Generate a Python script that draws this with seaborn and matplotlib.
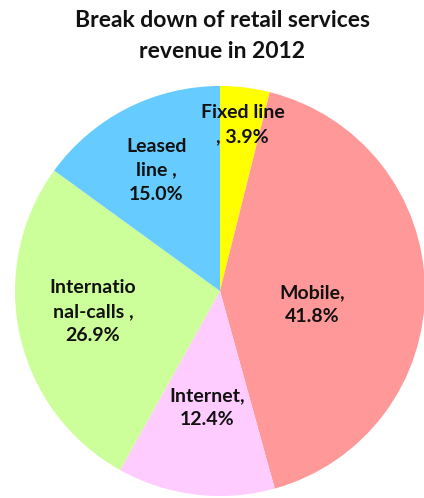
import matplotlib
matplotlib.use("Agg")
import matplotlib.pyplot as plt
import seaborn as sns
import numpy as np

categories = ["Fixed line", "Mobile", "Internet", "Internatio\nnal-calls", "Leased\nline"]
label_texts = ["Fixed line\n, 3.9%", "Mobile,\n41.8%", "Internet,\n12.4%", "Internatio\nnal-calls ,\n26.9%", "Leased\nline ,\n15.0%"]
values = [3.9, 41.8, 12.4, 26.9, 15.0]
colors = ["#FFFF00", "#FF9999", "#FFCCFF", "#CCFF99", "#66CCFF"]
# label positions relative to the pie centre, in pie-radius units
label_x = [0.11, 0.45, -0.063, -0.62, -0.31]
label_y = [0.81, -0.065, -0.57, -0.10, 0.59]

sns.set_theme(style="white")
plt.rcParams['font.family'] = ['Lato', 'DejaVu Sans']

fig = plt.figure(figsize=(4.24, 4.98), dpi=100)
ax = fig.add_axes([15/424, 2/498, 410/424, 410/498])

wedges, _ = ax.pie(values, colors=colors, startangle=90, counterclock=False,
                   wedgeprops=dict(linewidth=0))
ax.set_xlim(-1, 1)
ax.set_ylim(-1, 1)
ax.set_aspect('equal')
ax.axis('off')

for txt, lx, ly in zip(label_texts, label_x, label_y):
    ax.text(lx, ly, txt, ha='center', va='center',
            fontsize=14, fontweight='bold', color='#111111', linespacing=1.5)

fig.text(222/424, 1 - 36/498, "Break down of retail services\nrevenue in 2012",
         ha='center', va='center', fontsize=16.5, fontweight='bold', color='#111111',
         linespacing=1.6)

fig.savefig("out.png", dpi=100)
